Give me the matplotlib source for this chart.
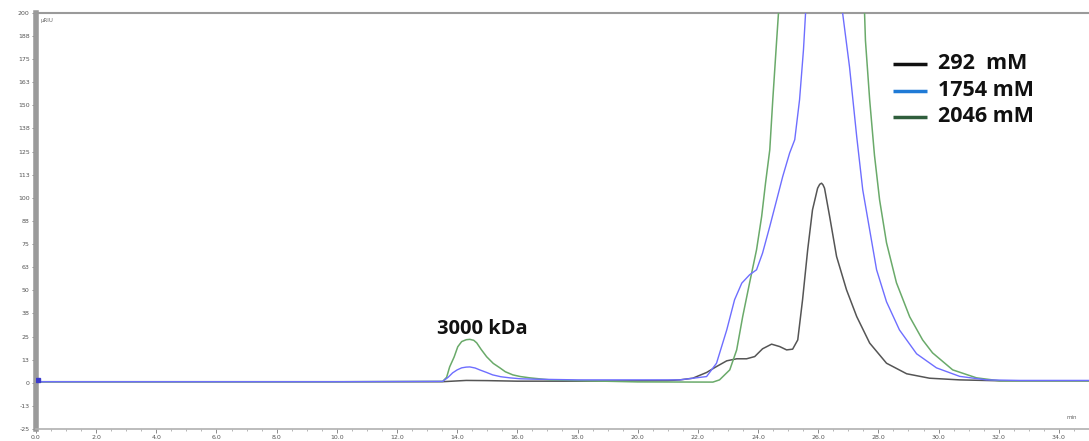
import matplotlib
matplotlib.use("Agg")
import matplotlib.pyplot as plt
from matplotlib.ticker import MultipleLocator

# ---- data (time in min, signal in µRIU) ----
t_292 = [0.0, 5.0, 10.0, 13.5, 14.3, 15.0, 16.0, 18.0, 21.0,
         21.40, 21.83, 22.29, 22.62, 22.96, 23.29, 23.62, 23.89, 24.15, 24.45, 24.72,
         24.95, 25.15, 25.32, 25.48, 25.65, 25.81, 25.98, 26.05, 26.11, 26.16, 26.21,
         26.38, 26.61, 26.94, 27.28, 27.71, 28.27, 28.94, 29.70, 30.70, 32.03, 35.0]
v_292 = [0.6, 0.6, 0.6, 0.6, 1.3, 1.2, 0.9, 0.9, 1.2,
         1.6, 2.5, 5.6, 8.8, 11.9, 13.0, 13.0, 14.2, 18.4, 20.9, 19.6,
         17.8, 18.2, 23.2, 44.9, 71.9, 93.5, 105.2, 107.3, 107.9, 107.0, 105.2,
         89.9, 68.3, 50.3, 35.8, 21.5, 10.6, 4.9, 2.5, 1.6, 1.1, 1.1]

t_1754 = [0.0, 5.0, 10.0, 13.52, 13.7, 13.85, 14.0, 14.15, 14.3, 14.42, 14.6, 14.75,
          14.98, 15.18, 15.45, 15.75, 16.1, 16.51, 18.0, 21.40,
          22.29, 22.62, 22.96, 23.22, 23.46, 23.72, 23.95, 24.15, 24.39, 24.62, 24.82,
          25.05, 25.22, 25.38, 25.51, 25.58, 25.9, 26.2, 26.5, 26.81, 27.04, 27.28,
          27.48, 27.71, 27.94, 28.27, 28.70, 29.27, 29.93, 30.70, 31.59, 32.7, 35.0]
v_1754 = [0.6, 0.6, 0.6, 0.8, 3.0, 5.4, 7.0, 8.1, 8.5, 8.6, 8.0, 7.0,
          5.6, 4.3, 3.3, 2.7, 2.2, 2.0, 1.6, 1.6,
          3.4, 10.6, 28.6, 44.9, 53.9, 58.4, 61.1, 70.1, 84.5, 98.9, 111.5,
          124.2, 131.4, 153.0, 180.0, 200.0, 225.0, 240.0, 225.0, 200.0, 170.8, 133.0,
          104.3, 82.7, 61.1, 43.8, 28.6, 15.7, 8.1, 3.5, 1.6, 1.3, 1.3]

t_2046 = [0.0, 5.0, 10.0, 13.52, 13.65, 13.75, 13.9, 14.02, 14.15, 14.3, 14.42, 14.55,
          14.65, 14.8, 14.98, 15.2, 15.42, 15.6, 15.85, 16.1, 16.41, 17.08, 18.0, 20.0,
          22.5, 22.72, 23.06, 23.29, 23.49, 23.72, 23.95, 24.12, 24.25, 24.39, 24.49,
          24.62, 24.68, 25.3, 26.1, 26.9, 27.54, 27.57, 27.71, 27.87, 28.04, 28.27,
          28.60, 29.04, 29.47, 29.80, 30.47, 31.26, 32.03, 35.0]
v_2046 = [0.6, 0.6, 0.6, 0.8, 3.0, 8.6, 14.0, 19.5, 22.3, 23.3, 23.5, 23.0,
          21.6, 18.0, 14.1, 10.5, 8.1, 6.0, 4.3, 3.4, 2.7, 1.6, 1.2, 0.5,
          0.4, 1.6, 7.0, 17.8, 35.8, 54.1, 71.9, 89.9, 108.1, 125.9, 153.0,
          185.4, 200.0, 250.0, 265.0, 250.0, 200.0, 185.0, 153.0, 123.0, 98.9, 75.7,
          54.1, 35.7, 23.2, 16.2, 7.0, 2.7, 1.1, 1.1]

legend_labels = ["292  mM", "1754 mM", "2046 mM"]
legend_colors = ["#111111", "#1f7ad6", "#2f5e3c"]
line_colors = ["#555555", "#6e6eff", "#6aaa6a"]

x_ticks = [0, 2, 4, 6, 8, 10, 12, 14, 16, 18, 20, 22, 24, 26, 28, 30, 32, 34]
y_ticks = [-25, -12.5, 0, 12.5, 25, 37.5, 50, 62.5, 75, 87.5, 100, 112.5, 125, 137.5,
           150, 162.5, 175, 187.5, 200]
y_tick_labels = ["-25", "-13", "0", "13", "25", "38", "50", "63", "75", "88", "100", "113",
                 "125", "138", "150", "163", "175", "188", "200"]

fig = plt.figure(figsize=(10.89, 4.41), dpi=100)
ax = fig.add_axes([0.033, 0.027, 0.967, 0.944])

ax.plot(t_292, v_292, color=line_colors[0], lw=1.1, zorder=3)
ax.plot(t_2046, v_2046, color=line_colors[2], lw=1.1, zorder=4)
ax.plot(t_1754, v_1754, color=line_colors[1], lw=1.0, zorder=5)
ax.plot([0.08], [1.8], marker="s", ms=3.5, color="#3a3acc", zorder=6)

ax.set_xlim(0, 35)
ax.set_ylim(-25, 200)
ax.set_xticks(x_ticks)
ax.set_xticklabels([f"{v:.1f}" for v in x_ticks])
ax.set_yticks(y_ticks)
ax.set_yticklabels(y_tick_labels)
ax.xaxis.set_minor_locator(MultipleLocator(0.5))
ax.yaxis.set_minor_locator(MultipleLocator(2.5))
ax.tick_params(axis="both", which="major", labelsize=4.5, colors="#777777", length=3,
               width=0.6, pad=1.5)
ax.tick_params(axis="both", which="minor", length=1.5, width=0.5, colors="#999999")
for lab in ax.get_xticklabels() + ax.get_yticklabels():
    lab.set_color("#555555")

ax.spines["left"].set_color("#9a9a9a")
ax.spines["left"].set_linewidth(4)
ax.spines["top"].set_color("#9a9a9a")
ax.spines["top"].set_linewidth(1.5)
ax.spines["bottom"].set_color("#b0b0b0")
ax.spines["bottom"].set_linewidth(1.2)
ax.spines["right"].set_visible(False)

ax.text(0.15, 197, "µRIU", fontsize=4, color="#666666", va="top", ha="left")
ax.text(34.6, -20, "min", fontsize=4, color="#666666", va="bottom", ha="right")

# annotation
ax.text(14.85, 26.5, "3000 kDa", fontsize=14.5, fontweight="bold", family="Open Sans",
        ha="center", va="baseline", color="#111111")

# manual legend (in axes fraction)
leg_y = [0.877, 0.8125, 0.75]
for lbl, col, yy in zip(legend_labels, legend_colors, leg_y):
    ax.plot([0.814, 0.846], [yy, yy], color=col, lw=2.5, transform=ax.transAxes,
            solid_capstyle="butt")
    ax.text(0.857, yy, lbl, transform=ax.transAxes, fontsize=15.5, fontweight="bold",
            family="Open Sans", va="center", ha="left", color="#111111")

fig.savefig("out.png", dpi=100)
